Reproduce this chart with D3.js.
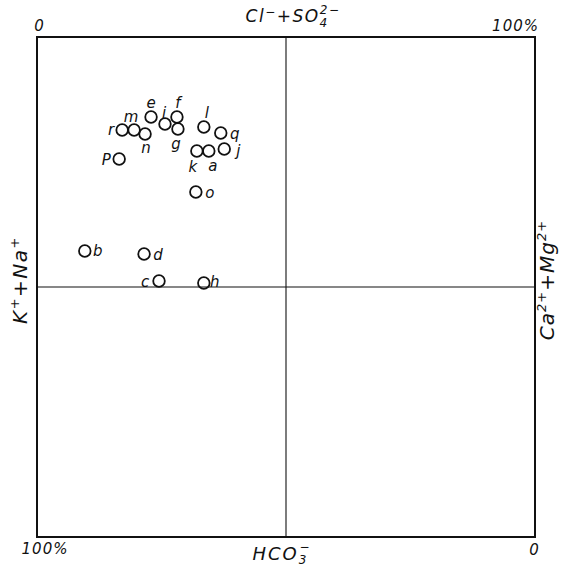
<!DOCTYPE html>
<html>
<head>
<meta charset="utf-8">
<script src="https://cdn.jsdelivr.net/npm/d3@7"></script>
<style>
  body { margin: 0; background: #fff; }
  text { font-family: "DejaVu Sans", "Liberation Sans", sans-serif; font-style: italic; font-weight: 300; fill: #111; }
</style>
</head>
<body>
<div class="c_chart"></div>
<script>
/*DATA
------------------------------------------------------
*/
// sample names
const samples = ["a","b","c","d","e","f","g","h","i","j","k","l","m","n","o","P","q","r"];
// Cl- + SO4 2- (% , 0 left -> 100 right)
const clSo4 = [34.5, 9.6, 24.5, 21.5, 22.9, 28.1, 28.3, 33.5, 25.7, 37.6, 32.1, 33.5, 19.5, 21.7, 31.9, 16.5, 36.9, 17.1];
// K+ + Na+ (% , 0 top -> 100 bottom)
const kNa = [22.8, 42.8, 48.8, 43.4, 16.0, 16.0, 18.4, 49.2, 17.4, 22.4, 22.8, 18.0, 18.6, 19.4, 31.0, 24.4, 19.2, 18.6];

/*LABEL PLACEMENT (pixels, relative to circle)
------------------------------------------------------
*/
const labelPos = {
	a:[4,15], b:[13,0], c:[-14,1], d:[14,1], e:[0,-14], f:[1,-14], g:[-2,15],
	h:[11,-1], i:[-1,-11], j:[14,2], k:[-4,16], l:[3,-14], m:[-3,-13], n:[1,14],
	o:[14,1], P:[-13,1], q:[14,1], r:[-11,0]
};

/*SVG, FORMAT
------------------------------------------------------
*/
const width = 561;
const height = 567;
const box = {left:37, top:37, right:535, bottom:537};

let svg = d3.select(".c_chart")
	.append("svg")
	.attr("width", width)
	.attr("height", height);

const x = d3.scaleLinear().domain([0,100]).range([box.left, box.right]);
const y = d3.scaleLinear().domain([0,100]).range([box.top, box.bottom]);

/*FRAME
------------------------------------------------------
*/
svg.append("rect")
	.attr("x", x(0))
	.attr("y", y(0))
	.attr("width", x(100)-x(0))
	.attr("height", y(100)-y(0))
	.attr("fill", "none")
	.attr("stroke", "#111")
	.attr("stroke-width", 2);

svg.append("line")
	.attr("x1", x(50)).attr("x2", x(50))
	.attr("y1", y(0)).attr("y2", y(100))
	.attr("stroke", "#111").attr("stroke-width", 1.1);

svg.append("line")
	.attr("x1", x(0)).attr("x2", x(100))
	.attr("y1", y(50)).attr("y2", y(50))
	.attr("stroke", "#111").attr("stroke-width", 1.1);

/*AXIS TEXT
------------------------------------------------------
*/
svg.append("text").attr("x", x(0)+2).attr("y", 31).attr("font-size", 15).attr("text-anchor","middle").text("0");
svg.append("text").attr("x", x(100)+4).attr("y", 31).attr("font-size", 15).attr("letter-spacing", 1).attr("text-anchor","end").text("100%");
svg.append("text").attr("x", 45).attr("y", 554).attr("font-size", 15).attr("letter-spacing", 1).attr("text-anchor","middle").text("100%");
svg.append("text").attr("x", x(100)-1).attr("y", 555).attr("font-size", 15).attr("text-anchor","middle").text("0");

// Cl- + SO4 2-
let tTop = svg.append("text").attr("x", 293).attr("y", 22).attr("font-size", 17).attr("letter-spacing", 1.5).attr("text-anchor","middle");
tTop.append("tspan").text("Cl");
tTop.append("tspan").attr("dy", -6).attr("font-size", 12).text("\u2212");
tTop.append("tspan").attr("dy", 6).text("+SO");
tTop.append("tspan").attr("dy", 5).attr("font-size", 12).text("4");
tTop.append("tspan").attr("dx", -9).attr("dy", -13).attr("font-size", 12).text("2\u2212");

// HCO3-
let tBot = svg.append("text").attr("x", 282).attr("y", 560).attr("font-size", 18).attr("letter-spacing", 2).attr("text-anchor","middle");
tBot.append("tspan").text("HCO");
tBot.append("tspan").attr("dy", 4).attr("font-size", 12).text("3");
tBot.append("tspan").attr("dx", -9).attr("dy", -13).attr("font-size", 12).text("\u2212");

// K+ + Na+
let tLeft = svg.append("text").attr("transform", "translate(27,280) rotate(-90)").attr("font-size", 20).attr("letter-spacing", 1.5).attr("text-anchor","middle");
tLeft.append("tspan").text("K");
tLeft.append("tspan").attr("dy", -8).attr("font-size", 13).text("+");
tLeft.append("tspan").attr("dy", 8).text("+Na");
tLeft.append("tspan").attr("dy", -8).attr("font-size", 13).text("+");

// Ca2+ + Mg2+
let tRight = svg.append("text").attr("transform", "translate(554,280) rotate(-90)").attr("font-size", 20).attr("letter-spacing", 1).attr("text-anchor","middle");
tRight.append("tspan").text("Ca");
tRight.append("tspan").attr("dy", -8).attr("font-size", 13).text("2+");
tRight.append("tspan").attr("dy", 8).text("+Mg");
tRight.append("tspan").attr("dy", -8).attr("font-size", 13).text("2+");

/*POINTS
------------------------------------------------------
*/
const pts = samples.map((s,i) => ({name:s, cx:x(clSo4[i]), cy:y(kNa[i])}));

let g = svg.append("g");

g.selectAll("circle")
	.data(pts)
	.enter()
	.append("circle")
	.attr("cx", d => d.cx)
	.attr("cy", d => d.cy)
	.attr("r", 5.8)
	.attr("fill", "none")
	.attr("stroke", "#111")
	.attr("stroke-width", 1.8);

g.selectAll("text.lab")
	.data(pts)
	.enter()
	.append("text")
	.attr("class", "lab")
	.attr("x", d => d.cx + labelPos[d.name][0])
	.attr("y", d => d.cy + labelPos[d.name][1])
	.attr("dy", "0.35em")
	.attr("text-anchor", "middle")
	.attr("font-size", 15)
	.text(d => d.name);
</script>
</body>
</html>
